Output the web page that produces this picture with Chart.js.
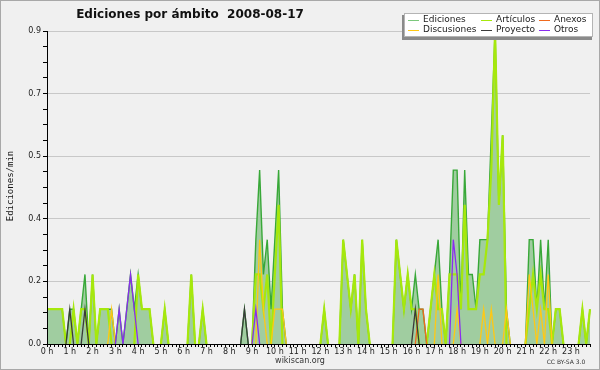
<!DOCTYPE html>
<html>
<head>
<meta charset="utf-8">
<script src="https://cdn.jsdelivr.net/npm/chart.js@4.4.0/dist/chart.umd.min.js"></script>
<style>
    html, body { margin: 0; padding: 0; background: #f0f0f0; }
    #grafico { display: block; }
</style>
</head>
<body>
<canvas id="grafico" width="600" height="370"></canvas>
<script>
// tramos de 10 minutos, 0h a 23h50
var horas = ['0 h', '1 h', '2 h', '3 h', '4 h', '5 h', '6 h', '7 h', '8 h', '9 h', '10 h', '11 h',
    '12 h', '13 h', '14 h', '15 h', '16 h', '17 h', '18 h', '19 h', '20 h', '21 h', '22 h', '23 h']
var tramos = []
for (var h = 0; h < 24; h++) {
    for (var m = 0; m < 60; m += 10) {
        tramos.push(h + ':' + (m < 10 ? '0' + m : m))
    }
}

var yMarcas = [0, 0.18, 0.36, 0.54, 0.72, 0.9]
var yEtiquetas = ['0.0', '0.2', '0.4', '0.5', '0.7', '0.9']

// una fila = 2 horas
var ediciones = [
    0.1, 0.1, 0.1, 0.1, 0.1, 0, 0.1, 0.1, 0, 0.1, 0.2, 0,
    0.2, 0, 0.1, 0.1, 0.1, 0.1, 0, 0.1, 0, 0.1, 0.2, 0.1,
    0.2, 0.1, 0.1, 0.1, 0, 0, 0, 0.1, 0, 0, 0, 0,
    0, 0, 0.2, 0, 0, 0.1, 0, 0, 0, 0, 0, 0,
    0, 0, 0, 0, 0.1, 0, 0, 0.3, 0.5, 0.2, 0.3, 0.1,
    0.3, 0.5, 0.1, 0, 0, 0, 0, 0, 0, 0, 0, 0,
    0, 0.1, 0, 0, 0, 0, 0.3, 0.2, 0.1, 0.2, 0, 0.3,
    0.1, 0, 0, 0, 0, 0, 0, 0, 0.3, 0.2, 0.1, 0.2,
    0.1, 0.2, 0.1, 0.1, 0, 0.1, 0.2, 0.3, 0.1, 0, 0.2, 0.5,
    0.5, 0.1, 0.5, 0.2, 0.2, 0.1, 0.3, 0.3, 0.3, 0.6, 0.9, 0.4,
    0.6, 0.1, 0, 0, 0, 0, 0, 0.3, 0.3, 0.1, 0.3, 0.1,
    0.3, 0, 0.1, 0.1, 0, 0, 0, 0, 0, 0.1, 0, 0.1
]
var articulos = [
    0.1, 0.1, 0.1, 0.1, 0.1, 0, 0, 0.1, 0, 0.1, 0.1, 0,
    0.2, 0, 0.1, 0.1, 0.1, 0, 0, 0, 0, 0, 0, 0,
    0.2, 0.1, 0.1, 0.1, 0, 0, 0, 0.1, 0, 0, 0, 0,
    0, 0, 0.2, 0, 0, 0.1, 0, 0, 0, 0, 0, 0,
    0, 0, 0, 0, 0, 0, 0, 0.2, 0.2, 0.1, 0.2, 0,
    0.2, 0.4, 0, 0, 0, 0, 0, 0, 0, 0, 0, 0,
    0, 0.1, 0, 0, 0, 0, 0.3, 0.2, 0.1, 0.2, 0, 0.3,
    0.1, 0, 0, 0, 0, 0, 0, 0, 0.3, 0.2, 0.1, 0.2,
    0.1, 0.1, 0, 0, 0, 0.1, 0.2, 0.1, 0.1, 0, 0.2, 0.2,
    0.2, 0.1, 0.4, 0.1, 0.1, 0.1, 0.2, 0.2, 0.3, 0.5, 0.9, 0.4,
    0.6, 0, 0, 0, 0, 0, 0, 0.1, 0.2, 0.1, 0.2, 0.1,
    0.1, 0, 0.1, 0.1, 0, 0, 0, 0, 0, 0.1, 0, 0.1
]
var anexos = [
    0, 0, 0, 0, 0, 0, 0, 0, 0, 0, 0, 0,
    0, 0, 0, 0, 0, 0, 0, 0, 0, 0, 0, 0,
    0, 0, 0, 0, 0, 0, 0, 0, 0, 0, 0, 0,
    0, 0, 0, 0, 0, 0, 0, 0, 0, 0, 0, 0,
    0, 0, 0, 0, 0, 0, 0, 0, 0, 0, 0, 0,
    0, 0, 0, 0, 0, 0, 0, 0, 0, 0, 0, 0,
    0, 0, 0, 0, 0, 0, 0, 0, 0, 0, 0, 0,
    0, 0, 0, 0, 0, 0, 0, 0, 0, 0, 0, 0,
    0, 0, 0.1, 0.1, 0, 0, 0, 0, 0, 0, 0, 0,
    0, 0, 0, 0, 0, 0, 0, 0, 0, 0, 0, 0,
    0, 0, 0, 0, 0, 0, 0, 0, 0, 0, 0, 0,
    0, 0, 0, 0, 0, 0, 0, 0, 0, 0, 0, 0
]
var discusiones = [
    0, 0, 0, 0, 0, 0, 0, 0, 0, 0, 0, 0,
    0, 0, 0, 0, 0, 0.1, 0, 0, 0, 0, 0, 0,
    0, 0, 0, 0, 0, 0, 0, 0, 0, 0, 0, 0,
    0, 0, 0, 0, 0, 0, 0, 0, 0, 0, 0, 0,
    0, 0, 0, 0, 0, 0, 0, 0, 0.3, 0.1, 0, 0,
    0.1, 0.1, 0.1, 0, 0, 0, 0, 0, 0, 0, 0, 0,
    0, 0, 0, 0, 0, 0, 0, 0, 0, 0, 0, 0,
    0, 0, 0, 0, 0, 0, 0, 0, 0, 0, 0, 0,
    0, 0, 0, 0, 0, 0, 0, 0.2, 0, 0, 0, 0,
    0.1, 0, 0, 0, 0, 0, 0, 0.1, 0, 0.1, 0, 0,
    0, 0.1, 0, 0, 0, 0, 0, 0.2, 0.1, 0, 0.1, 0,
    0.2, 0, 0, 0, 0, 0, 0, 0, 0, 0, 0, 0
]
var proyecto = [
    0, 0, 0, 0, 0, 0, 0.1, 0, 0, 0, 0.1, 0,
    0, 0, 0, 0, 0, 0, 0, 0, 0, 0, 0, 0,
    0, 0, 0, 0, 0, 0, 0, 0, 0, 0, 0, 0,
    0, 0, 0, 0, 0, 0, 0, 0, 0, 0, 0, 0,
    0, 0, 0, 0, 0.1, 0, 0, 0, 0, 0, 0, 0,
    0, 0, 0, 0, 0, 0, 0, 0, 0, 0, 0, 0,
    0, 0, 0, 0, 0, 0, 0, 0, 0, 0, 0, 0,
    0, 0, 0, 0, 0, 0, 0, 0, 0, 0, 0, 0,
    0, 0.1, 0, 0, 0, 0, 0, 0, 0, 0, 0, 0,
    0, 0, 0, 0, 0, 0, 0, 0, 0, 0, 0, 0,
    0, 0, 0, 0, 0, 0, 0, 0, 0, 0, 0, 0,
    0, 0, 0, 0, 0, 0, 0, 0, 0, 0, 0, 0
]
var otros = [
    0, 0, 0, 0, 0, 0, 0, 0, 0, 0, 0, 0,
    0, 0, 0, 0, 0, 0, 0, 0.1, 0, 0.1, 0.2, 0.1,
    0, 0, 0, 0, 0, 0, 0, 0, 0, 0, 0, 0,
    0, 0, 0, 0, 0, 0, 0, 0, 0, 0, 0, 0,
    0, 0, 0, 0, 0, 0, 0, 0.1, 0, 0, 0, 0,
    0, 0, 0, 0, 0, 0, 0, 0, 0, 0, 0, 0,
    0, 0, 0, 0, 0, 0, 0, 0, 0, 0, 0, 0,
    0, 0, 0, 0, 0, 0, 0, 0, 0, 0, 0, 0,
    0, 0, 0, 0, 0, 0, 0, 0, 0, 0, 0, 0.3,
    0.2, 0, 0, 0, 0, 0, 0, 0, 0, 0, 0, 0,
    0, 0, 0, 0, 0, 0, 0, 0, 0, 0, 0, 0,
    0, 0, 0, 0, 0, 0, 0, 0, 0, 0, 0, 0
]

var fuente = '"DejaVu Sans", sans-serif'

// no pintar tramos que van de 0 a 0 (quedan sobre el eje)
var ocultarCeros = {
    borderColor: function (ctx) {
        if (ctx.p0.parsed.y === 0 && ctx.p1.parsed.y === 0) return 'rgba(0,0,0,0)'
        return undefined
    }
}

function serie(label, data, color, ancho, orden) {
    return {
        label: label,
        data: data,
        borderColor: color,
        backgroundColor: color,
        borderWidth: ancho,
        pointRadius: 0,
        tension: 0,
        fill: false,
        order: orden,
        segment: ocultarCeros
    }
}

var dsEdiciones = serie('Ediciones', ediciones, '#38a838', 1.4, 6)
dsEdiciones.fill = 'origin'
dsEdiciones.backgroundColor = '#a0cda0'

var datasets = [
    dsEdiciones,
    serie('Artículos', articulos, '#a6e80c', 2.2, 5),
    serie('Anexos', anexos, '#f06a1e', 1.3, 3),
    serie('Discusiones', discusiones, '#ffc814', 1.3, 4),
    serie('Proyecto', proyecto, '#3a3a3a', 1.3, 2),
    serie('Otros', otros, '#8a2cf0', 1.3, 1)
]

var decorado = {
    id: 'decorado',
    beforeDraw: function (chart) {
        var c = chart.ctx
        c.save()
        c.fillStyle = '#f0f0f0'
        c.fillRect(0, 0, chart.width, chart.height)
        c.strokeStyle = '#a8a8a8'
        c.lineWidth = 1
        c.strokeRect(0.5, 0.5, chart.width - 1, chart.height - 1)
        c.restore()
    },
    afterDraw: function (chart) {
        var c = chart.ctx
        c.save()
        c.fillStyle = '#111'
        c.textBaseline = 'middle'

        // titulo
        c.font = 'bold 12px ' + fuente
        c.textAlign = 'center'
        c.fillText('Ediciones por ámbito  2008-08-17', 190, 15)

        // titulo eje y
        c.save()
        c.translate(11, 186)
        c.rotate(-Math.PI / 2)
        c.font = '9px "DejaVu Sans Mono", monospace'
        c.fillText('Ediciones/min', 0, 0)
        c.restore()

        // pie
        c.fillStyle = '#333'
        c.font = '8px ' + fuente
        c.fillText('wikiscan.org', 300, 361)
        c.font = '6px ' + fuente
        c.fillText('CC BY-SA 3.0', 566, 362)

        // leyenda
        c.fillStyle = '#8a8a8a'
        c.fillRect(402, 15, 190, 25)
        c.fillStyle = '#ffffff'
        c.fillRect(404, 13, 189, 24)
        c.strokeStyle = '#b4b4b4'
        c.strokeRect(404.5, 13.5, 188, 23)

        var cols = [408, 481, 539]
        var filas = [20, 30]
        var orden = [0, 1, 2, 3, 4, 5]
        c.font = '9px ' + fuente
        c.textAlign = 'left'
        for (var i = 0; i < orden.length; i++) {
            var ds = datasets[orden[i]]
            var x = cols[i % 3]
            var y = filas[Math.floor(i / 3)]
            c.strokeStyle = i === 0 ? '#7cc87c' : ds.borderColor
            c.lineWidth = 1
            c.beginPath()
            c.moveTo(x, y + 0.5)
            c.lineTo(x + 11, y + 0.5)
            c.stroke()
            c.fillStyle = '#222'
            c.fillText(ds.label, x + 15, y)
        }
        c.restore()
    }
}

var ctx = document.getElementById('grafico')
var grafico = new Chart(ctx, {
    type: 'line',
    data: {
        labels: tramos,
        datasets: datasets
    },
    options: {
        responsive: false,
        animation: false,
        devicePixelRatio: 1,
        layout: { padding: { left: 0, top: 31, right: 10, bottom: 0 } },
        plugins: {
            legend: { display: false },
            tooltip: { enabled: false }
        },
        scales: {
            x: {
                type: 'category',
                offset: false,
                afterFit: function (scale) { scale.height = 26 },
                grid: {
                    drawOnChartArea: false,
                    color: '#000',
                    tickColor: '#000',
                    tickLength: 3,
                    offset: false
                },
                border: { color: '#000', width: 1, z: 1 },
                ticks: {
                    autoSkip: false,
                    maxRotation: 0,
                    minRotation: 0,
                    padding: 0,
                    color: '#222',
                    font: { family: fuente, size: 8 },
                    callback: function (v, i) {
                        return i % 6 === 0 ? horas[i / 6] : ''
                    }
                }
            },
            y: {
                min: 0,
                max: 0.9,
                afterFit: function (scale) { scale.width = 47 },
                afterBuildTicks: function (scale) {
                    var t = []
                    for (var i = 0; i < yMarcas.length; i++) {
                        t.push({ value: yMarcas[i] })
                        if (i < yMarcas.length - 1) {
                            var paso = (yMarcas[i + 1] - yMarcas[i]) / 4
                            for (var k = 1; k < 4; k++) t.push({ value: yMarcas[i] + paso * k })
                        }
                    }
                    scale.ticks = t
                },
                grid: {
                    color: function (c) {
                        return (c.index % 4 === 0 && c.index > 0) ? '#c8c8c8' : 'rgba(0,0,0,0)'
                    },
                    tickColor: '#000',
                    tickLength: 4
                },
                border: { color: '#000', width: 1, z: 1 },
                ticks: {
                    padding: 2,
                    color: '#222',
                    font: { family: fuente, size: 8 },
                    callback: function (v, i) {
                        return i % 4 === 0 ? yEtiquetas[i / 4] : ''
                    }
                }
            }
        }
    },
    plugins: [decorado]
})
</script>
</body>
</html>
